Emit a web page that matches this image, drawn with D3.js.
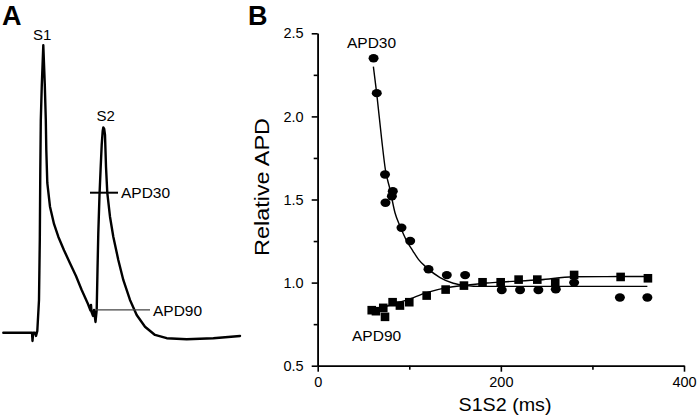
<!DOCTYPE html>
<html>
<head>
<meta charset="utf-8">
<script src="https://cdn.jsdelivr.net/npm/d3@7/dist/d3.min.js"></script>
<style>
  html, body { margin: 0; padding: 0; background: #fff; }
  svg { display: block; font-family: "Liberation Sans", Arial, Helvetica, sans-serif; }
</style>
</head>
<body>
<svg id="chart" width="700" height="417"></svg>
<script>
// ---------- Panel A: action potential trace (time ms, voltage mV) ----------
const traceTime = [6.6, 64, 65, 66.4, 70, 72, 74.6, 78, 79.6, 80.6, 81.6, 83.6, 86.6, 89.6, 91.6, 92.6, 94.6,
  100, 108, 116.6, 128, 140, 152, 163.4, 176, 181, 182, 183, 186, 188, 191, 193.4, 195, 196.6, 199,
  201.4, 203.4, 205.4, 206.6, 208.4, 210, 212, 214.6, 220, 226.6, 236.6, 246.6, 260, 273.4, 290,
  310, 333.4, 373.4, 426.6, 480];
const traceVolt = [-85, -85, -88.3, -85, -85, -86.3, -84.3, -71.9, -47.9, -19.9, 0.1, 14.1, 30, 14.1, 0.1, -11.9, -25.1,
  -34.6, -41.5, -46.6, -52, -57.2, -62.3, -67.9, -73.5, -76.1, -73.9, -76.7, -78.3, -75.9, -80.7, -75.9, -60, -45.1, -29.9,
  -18.6, -9.9, -4.3, -2.9, -3.5, -5.9, -18.6, -29.1, -38.6, -46.6, -55.9, -63.9, -71.9, -77.9, -82.6,
  -85.9, -87.2, -87.6, -87.2, -86.3];
const apdMarkers = [
  { name: "APD30", t0: 180, t1: 236, v: -29 },
  { name: "APD90", t0: 192, t1: 300, v: -75.9 }
];
const peakLabels = [
  { name: "S1", t: 84.6, v: 32 },
  { name: "S2", t: 211.6, v: -0.5 }
];

// ---------- Panel B: restitution data ----------
const apd30S1S2 = [61, 64.5, 73.5, 82, 81, 74, 91.5, 101, 121, 141, 161, 201, 221, 241, 260, 280, 330, 360];
const apd30Rel  = [2.35, 2.14, 1.65, 1.55, 1.52, 1.48, 1.33, 1.25, 1.08, 1.045, 1.045, 0.955, 0.955, 0.955, 0.96, 1.0, 0.91, 0.91];
const apd90S1S2 = [59, 63.6, 73.5, 71.6, 81.8, 89.8, 100, 119, 139.7, 159.7, 180, 199.8, 219.4, 239.8, 259.4, 280, 330.8, 360.6];
const apd90Rel  = [0.834, 0.828, 0.794, 0.848, 0.882, 0.862, 0.882, 0.922, 0.958, 0.982, 1.002, 1.002, 1.018, 1.018, 1.0, 1.046, 1.034, 1.026];
// fitted curves
const fit30S1S2 = [60.8, 64.4, 69.9, 73.9, 79, 84.4, 89.9, 97.2, 104, 110, 119, 133.6, 148, 162.7, 177, 220, 360];
const fit30Rel  = [2.30, 2.14, 1.86, 1.68, 1.56, 1.42, 1.34, 1.25, 1.19, 1.14, 1.09, 1.03, 0.996, 0.982, 0.977, 0.977, 0.977];
const fit90S1S2 = [59.7, 79, 97, 119, 141, 163, 185, 206, 243, 279, 316, 360];
const fit90Rel  = [0.825, 0.865, 0.895, 0.94, 0.97, 0.985, 0.998, 1.005, 1.017, 1.035, 1.036, 1.037];
const yMajorTicks = [0.5, 1.0, 1.5, 2.0, 2.5];
const yMinorTicks = [0.75, 1.25, 1.75, 2.25];
const xMajorTicks = [0, 200, 400];
const xMinorTicks = [100, 300];

const svg = d3.select("#chart");

// ===== Panel A =====
const xA = d3.scaleLinear().domain([0, 480]).range([0, 240]);
const yA = d3.scaleLinear().domain([-90, 30]).range([345.2, 45.2]);
const gA = svg.append("g");

gA.append("text").attr("x", 2).attr("y", 25)
  .attr("font-size", 27).attr("font-weight", "bold").text("A");

const trace = traceTime.map((t, i) => [t, traceVolt[i]]);
gA.append("path")
  .attr("d", d3.line().x(d => xA(d[0])).y(d => yA(d[1]))(trace))
  .attr("fill", "none").attr("stroke", "#000").attr("stroke-width", 2.4)
  .attr("stroke-linejoin", "round").attr("stroke-linecap", "round");

// APD marker lines
gA.append("line")
  .attr("x1", xA(apdMarkers[0].t0)).attr("x2", xA(apdMarkers[0].t1))
  .attr("y1", yA(apdMarkers[0].v)).attr("y2", yA(apdMarkers[0].v))
  .attr("stroke", "#000").attr("stroke-width", 2);
gA.append("line")
  .attr("x1", xA(apdMarkers[1].t0)).attr("x2", xA(apdMarkers[1].t1))
  .attr("y1", yA(apdMarkers[1].v)).attr("y2", yA(apdMarkers[1].v))
  .attr("stroke", "#444").attr("stroke-width", 1.2);
apdMarkers.forEach(m => {
  gA.append("text").attr("x", xA(m.t1) + 3).attr("y", yA(m.v)).attr("dy", "0.36em")
    .attr("font-size", 15.5).text(m.name);
});
peakLabels.forEach(p => {
  gA.append("text").attr("x", xA(p.t)).attr("y", yA(p.v)).attr("text-anchor", "middle")
    .attr("font-size", 15).text(p.name);
});

// ===== Panel B =====
const xB = d3.scaleLinear().domain([0, 400]).range([317.7, 684]);
const yB = d3.scaleLinear().domain([0.5, 2.5]).range([365.7, 33.3]);
const gB = svg.append("g");

gB.append("text").attr("x", 248).attr("y", 25)
  .attr("font-size", 27).attr("font-weight", "bold").text("B");

// axes
const yAxis = d3.axisLeft(yB).tickValues(yMajorTicks).tickFormat(d3.format(".1f"))
  .tickSize(6).tickSizeOuter(0).tickPadding(8);
const yAxisMinor = d3.axisLeft(yB).tickValues(yMinorTicks).tickFormat("")
  .tickSize(4).tickSizeOuter(0);
const xAxis = d3.axisBottom(xB).tickValues(xMajorTicks).tickFormat(d3.format("d"))
  .tickSize(6).tickSizeOuter(0).tickPadding(5);
const xAxisMinor = d3.axisBottom(xB).tickValues(xMinorTicks).tickFormat("")
  .tickSize(4).tickSizeOuter(0);

function styleAxis(g) {
  g.selectAll("path, line").attr("stroke", "#000").attr("stroke-width", 1.6);
  g.selectAll("text").attr("fill", "#000").attr("font-size", 14.5)
    .attr("font-family", "\"Liberation Sans\", Arial, sans-serif");
}
gB.append("g").attr("transform", `translate(${xB(0)},0)`).call(yAxisMinor).call(styleAxis);
gB.append("g").attr("transform", `translate(${xB(0)},0)`).call(yAxis).call(styleAxis);
gB.append("g").attr("transform", `translate(0,${yB(0.5)})`).call(xAxisMinor).call(styleAxis);
gB.append("g").attr("transform", `translate(0,${yB(0.5)})`).call(xAxis).call(styleAxis);

// axis titles
gB.append("text").attr("x", 505).attr("y", 411).attr("text-anchor", "middle")
  .attr("font-size", 18).attr("textLength", 93).attr("lengthAdjust", "spacingAndGlyphs")
  .text("S1S2 (ms)");
gB.append("text").attr("transform", `translate(269,187) rotate(-90)`).attr("text-anchor", "middle")
  .attr("font-size", 21).attr("textLength", 138).attr("lengthAdjust", "spacingAndGlyphs")
  .text("Relative APD");

// fitted curves
const lineB = d3.line().x(d => xB(d[0])).y(d => yB(d[1])).curve(d3.curveMonotoneX);
gB.append("path").attr("d", lineB(fit30S1S2.map((x, i) => [x, fit30Rel[i]])))
  .attr("fill", "none").attr("stroke", "#000").attr("stroke-width", 1.4);
gB.append("path").attr("d", lineB(fit90S1S2.map((x, i) => [x, fit90Rel[i]])))
  .attr("fill", "none").attr("stroke", "#000").attr("stroke-width", 1.4);

// APD90 squares
gB.selectAll("rect.apd90").data(apd90S1S2.map((x, i) => [x, apd90Rel[i]])).enter()
  .append("rect").attr("class", "apd90")
  .attr("x", d => xB(d[0]) - 4.3).attr("y", d => yB(d[1]) - 4.3)
  .attr("width", 8.6).attr("height", 8.6).attr("fill", "#000");

// APD30 circles
gB.selectAll("ellipse.apd30").data(apd30S1S2.map((x, i) => [x, apd30Rel[i]])).enter()
  .append("ellipse").attr("class", "apd30")
  .attr("cx", d => xB(d[0])).attr("cy", d => yB(d[1]))
  .attr("rx", 5).attr("ry", 4.2).attr("fill", "#000");

// series labels
gB.append("text").attr("x", xB(32)).attr("y", yB(2.41)).attr("font-size", 15.5).text("APD30");
gB.append("text").attr("x", xB(37.5)).attr("y", yB(0.65)).attr("font-size", 15.5).text("APD90");
</script>
</body>
</html>
